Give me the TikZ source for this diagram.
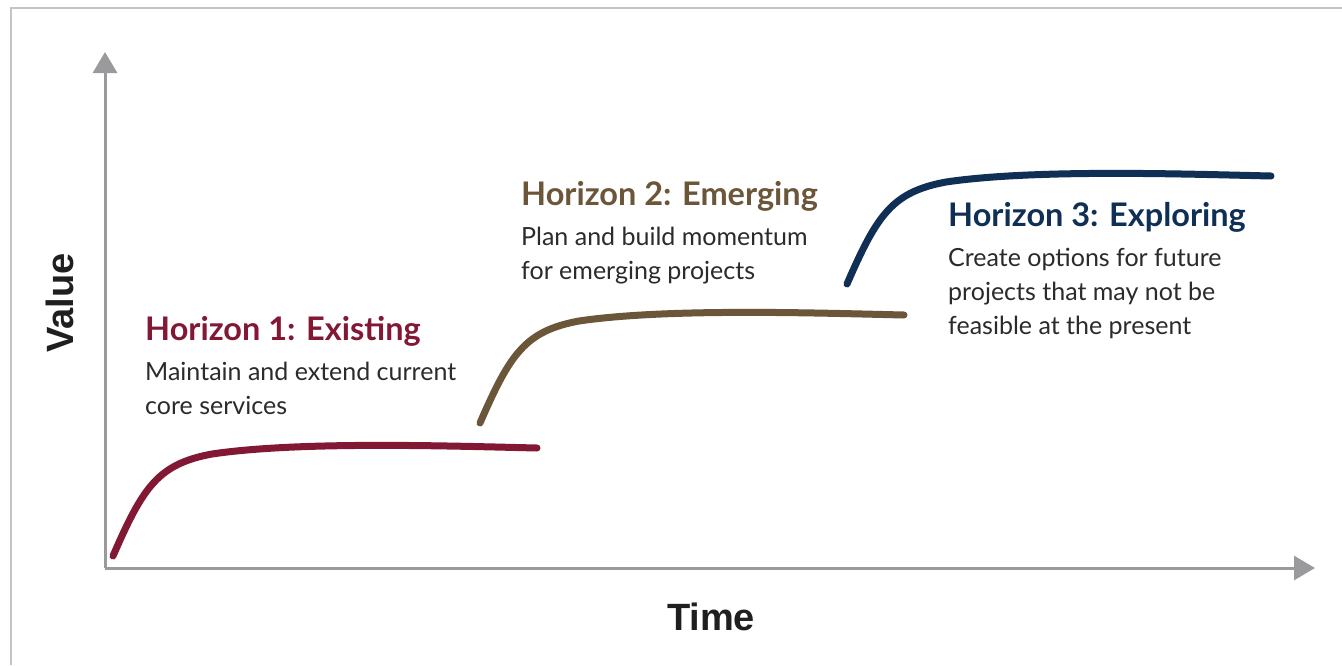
\documentclass[tikz,border=0pt]{standalone}
\usepackage{fontspec}
\setmainfont{Lato}
\newfontfamily\axisfont{Liberation Sans}
\usetikzlibrary{arrows.meta}

\definecolor{hone}{HTML}{821834}
\definecolor{htwo}{HTML}{6B5639}
\definecolor{hthree}{HTML}{0F2F55}
\definecolor{framegray}{HTML}{C4C4C4}
\definecolor{axisgray}{HTML}{9A9A9C}
\definecolor{bodytext}{HTML}{2B2B2B}

\tikzset{
	frame/.style={draw=framegray, line width=2pt},
	axis/.style={draw=axisgray, line width=3pt, -{Triangle[length=21pt,width=24pt]}},
	horizon/.style={line width=7pt, line cap=round},
	title/.style={anchor=base west, inner sep=0pt, font=\fontsize{32.5}{38}\selectfont\bfseries},
	body/.style={anchor=base west, inner sep=0pt, align=left, text=bodytext, font=\fontsize{25}{34}\selectfont},
	axislabel/.style={text=black!88, font=\axisfont\fontsize{38}{42}\selectfont\bfseries}
}

\begin{document}
\begin{tikzpicture}[x=1pt, y=-1pt]
	\useasboundingbox (0,0) rectangle (1342,665);
	\fill[white] (0,0) rectangle (1342,665);
	\draw[frame] (11,665) -- (11,8) -- (1342,8);

	% axes
	\coordinate (origin) at (105,568);
	\coordinate (ytip) at (105,52);
	\coordinate (xtip) at (1315,568);
	\draw[axis] (origin) -- (ytip);
	\draw[axis] (origin) -- (xtip);
	\node[axislabel, rotate=90] (value) at (60,303) {Value};
	\node[axislabel] (time) at (711,617) {Time};

	% the three s-curves, same shape shifted
	\foreach \dx/\dy/\c in {0/0/hone, 367/-133/htwo, 734/-272/hthree} {
		\begin{scope}[shift={(\dx,\dy)}]
			\draw[horizon, \c] (113,556) .. controls (143,487) and (158,464) .. (212,454)
				.. controls (300,441) and (450,446) .. (537,448);
		\end{scope}
	}

	% labels (body nodes sit on their last baseline)
	\node[title, text=hone] (tone) at (145,340) {Horizon 1: Existing};
	\node[body] (bone) at (145,414) {Maintain and extend current\\core services};

	\node[title, text=htwo] (ttwo) at (521,205) {Horizon 2: Emerging};
	\node[body] (btwo) at (521,279) {Plan and build momentum\\for emerging projects};

	\node[title, text=hthree] (tthree) at (948,226) {Horizon 3: Exploring};
	\node[body] (bthree) at (948,334) {Create options for future\\projects that may not be\\feasible at the present};
\end{tikzpicture}
\end{document}
